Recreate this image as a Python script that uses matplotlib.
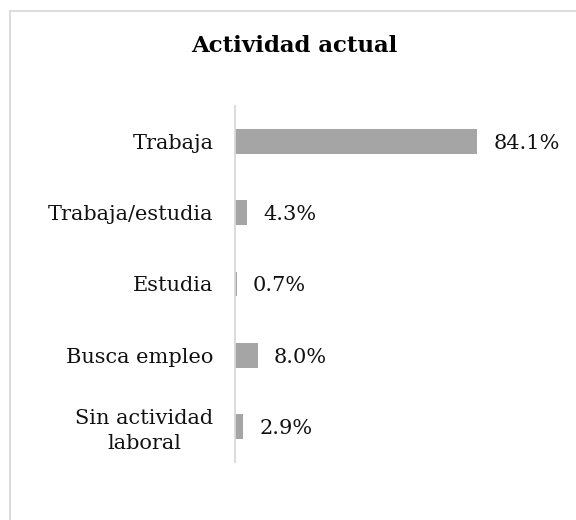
import matplotlib
matplotlib.use('Agg')
from matplotlib import pyplot as plt
from matplotlib.lines import Line2D

categories = ['Trabaja', 'Trabaja/estudia', 'Estudia', 'Busca empleo', 'Sin actividad\nlaboral']
values = [84.1, 4.3, 0.7, 8.0, 2.9]
value_labels = ['84.1%', '4.3%', '0.7%', '8.0%', '2.9%']

plt.rcParams['font.family'] = ['DejaVu Serif']

fig = plt.figure(figsize=(5.76, 5.2), dpi=100)
ax = fig.add_axes([235 / 576, 1 - 462 / 520, 288 / 576, 356 / 520])

pos = list(range(len(categories)))
ax.barh(pos, values, height=0.35, color='#a5a5a5')
ax.set_xlim(0, 100)
ax.set_ylim(len(categories) - 0.5, -0.5)

for p, v, lab in zip(pos, values, value_labels):
    ax.annotate(lab, (v, p), xytext=(11.5, 0), textcoords='offset points',
                va='center_baseline', ha='left', fontsize=15, color='#111111')

ax.set_yticks(pos)
ax.set_yticklabels(categories, fontsize=15, color='#111111',
                   multialignment='center', linespacing=1.35)
ax.tick_params(axis='y', length=0, pad=15.5)
ax.set_xticks([])

for s in ['top', 'right', 'bottom']:
    ax.spines[s].set_visible(False)
ax.spines['left'].set_color('#d9d9d9')
ax.spines['left'].set_linewidth(1.3)

fig.text(294 / 576, 1 - 46 / 520, 'Actividad actual', ha='center', va='center',
         fontsize=16.5, fontweight='bold', color='#000000')

# chart frame (right and bottom edges are cut off)
fig.add_artist(Line2D([9.5 / 576, 1.0], [1 - 10.5 / 520] * 2, color='#d9d9d9', lw=1.3))
fig.add_artist(Line2D([9.5 / 576] * 2, [0.0, 1 - 10.5 / 520], color='#d9d9d9', lw=1.3))

fig.savefig('out.png', dpi=100)
